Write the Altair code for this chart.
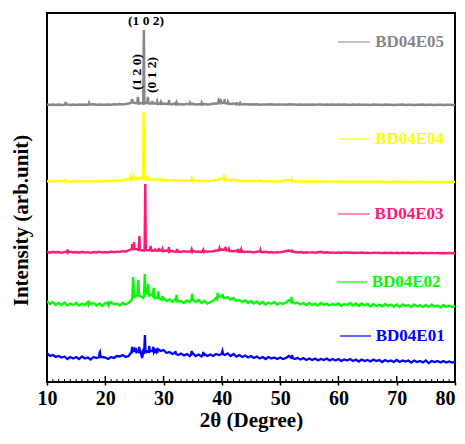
import altair as alt
import pandas as pd

# ---------------- data ----------------
series_names = ["BD04E01", "BD04E02", "BD04E03", "BD04E04", "BD04E05"]
series_colors = ["#0000ff", "#00ff00", "#ff1a75", "#ffff00", "#888888"]
series_offset = [20, 76, 129, 200, 277]

# background grid: 10 .. 80 deg, 0.5 deg step
two_theta_grid = [round(10 + 0.5 * i, 1) for i in range(141)]

bg_E05 = [0.5,0,0.5,0,0.5,0,0.3,0.6,0,0.4,
          0,0.5,0.2,0.6,0.1,0.4,0.8,0.2,0.5,0.3,
          0.2,0.6,0.3,0.8,0.5,1,0.6,1,1.5,3,
          2,2.5,2,1.5,2,1.5,2,1.5,1.2,2,
          1.5,1,1.2,0.8,1.5,1,0.8,0.6,1,0.8,
          1.2,0.6,0.8,0.5,1,0.6,0.8,1.2,1.5,2.5,
          2.5,2,1.5,1,1.5,0.8,1.2,0.6,1,0.5,
          0.8,0.4,0.8,0.3,0.6,0.4,0.5,0.8,0.3,0.5,
          0.4,0.6,0.3,0.8,0.4,0.6,0.3,0.5,0.2,0.5,
          0.3,0.5,0.2,0.4,0.6,0.2,0.5,0.3,0.4,0.2,
          0.4,0.2,0.5,0.3,0.1,0.4,0.2,0.5,0.3,0.2,
          0.3,0.1,0.4,0.2,0.3,0.1,0.4,0.2,0.3,0.1,
          0.3,0.2,0.4,0.1,0.3,0.2,0.1,0.3,0.2,0.4,
          0.1,0.3,0.2,0.1,0.3,0.2,0.1,0.3,0.2,0.1,
          0.2]
bg_E04 = [0.5,1.2,0.3,1,0.5,1.3,0.4,1,0.2,0.8,
          0.3,1,0.4,1.1,0.2,0.9,0.5,1.2,0.3,1,
          0.6,1.3,0.8,1.5,1,1.8,1.5,2.5,3,4.5,
          4,3.5,4.5,3,3.5,2.5,3,2.2,2.8,2,
          2.5,1.5,2,1.2,1.8,1,1.5,1,1.5,1.2,
          3,1.2,1,1.4,0.8,1.3,1,1.6,2,3,
          3.5,2.5,2,1.5,2,1.2,1.5,1,1.3,0.8,
          1.2,0.6,1,1.4,0.5,1,0.6,0.9,0.4,0.8,
          0.5,1,1.5,2,1,0.7,0.4,0.9,0.3,0.7,
          0.4,0.8,0.2,0.7,0.4,0.8,0.3,0.6,0.2,0.5,
          0.3,0.7,0.1,0.5,0.3,0.6,0.1,0.4,0.2,0.5,
          0.1,0.4,0.2,0.5,0,0.4,0.1,0.3,0,0.4,
          0.1,0.3,0,0.4,0.1,0.2,0,0.3,0.1,0.2,
          0,0.3,0.1,0.2,-0.1,0.2,0,0.1,-0.1,0.1,
          0]
bg_E03 = [1,0.3,1.2,0.5,1,0.2,1.1,0.4,1.3,0.5,
          1,0.3,1.2,0.4,0.9,0.2,1,0.5,1.3,0.4,
          1,0.5,1.5,0.8,1.4,1,1.8,1.5,2.5,4,
          4.5,3.5,3,2.5,3,2.5,2,2.8,2.2,2.5,
          1.8,2.5,1.5,2,1.2,1.6,1,1.8,1.2,1.5,
          2.5,1.2,1.5,1,2,1.2,1.6,1.8,2.5,3,
          3.5,3,2.5,2,1.8,2.2,1.2,1.5,1,1.4,
          1,0.6,1.2,1.8,0.7,1.2,0.5,1,0.4,0.9,
          0.6,1.2,2,2.5,1.5,1,0.5,1,0.3,0.8,
          0.4,0.9,0.2,0.8,1.2,0.3,0.7,0.2,0.6,0.1,
          0.5,0,0.6,0.2,0.5,0,0.4,0.1,0.5,0,
          0.4,-0.1,0.3,0.1,0.4,-0.2,0.3,0,0.2,-0.1,
          0.3,-0.2,0.2,0,0.3,-0.3,0.1,-0.1,0.2,-0.2,
          0.1,-0.3,0.1,-0.1,0,-0.3,0,-0.2,0.1,-0.3,
          -0.2]
bg_E02 = [5,2,4,1,3,1,3.5,0.5,2.5,1,
          3,0.5,2.5,1,4,2,3,0.5,2.5,0,
          3,1,4,1.5,2.5,0.5,3,1.5,3,6,
          9,11,10,8,12,9,11,8,9,7,
          8,5,6.5,4,7,4.5,5,3,5.5,4,
          8,4,6,3,5,2.5,4,5,8,9,
          10,8,9,6.5,8,5,6,4,5.5,3,
          5,2.5,4.5,2,4,1.5,3.5,2,4,1.5,
          3,2,3.5,6,4,2.5,3.5,1.5,3,1,
          3,1,2.5,0.5,3,1,2.5,0.5,2,1,
          2.5,0,2,1,3,0.5,2.5,0,2.5,0.5,
          2,-0.5,2,0,1.5,-0.5,2,0,1.5,-0.5,
          1.5,-1,1.5,0,1,-1,1.5,-0.5,1,-1,
          1,-1,1.5,-0.5,0.5,-1.5,1,-1,0.5,-1,
          0]
bg_E01 = [9,6,7,5,6,4.5,5.5,3,5,3.5,
          5,3,5.5,3.5,4.5,2.5,5,4,9,5,
          4.5,3,5,4,6,5.5,7,5,6,10,
          13,11,12,10,10,9,11,12,13,11,
          12,9,10,8,9.5,7,8.5,6.5,8,6,
          9,6,7.5,5.5,8,6,7.5,6,8,7,
          9,7,8.5,6,8,5.5,7,5,6.5,4.5,
          6,4,5.5,3.5,5,3,5,3.5,4.5,3,
          4.5,3,4,6,4.5,3,4,2.5,4,2,
          3.5,2,3.5,1.5,3,2,3.5,1.5,3,1.5,
          3,1,2.5,1.5,3,1,2.5,0.5,2.5,1,
          2,0.5,2.5,1,2,0,2,0.5,1.5,0,
          2,0,1.5,0.5,1.5,-0.5,1.5,0,1,-0.5,
          1.5,-1,1,0,1,-0.5,1,-0.5,0.5,-0.5,
          0]

# sharp reflections (2-theta, height above baseline)
pk_x_E05 = [13.12,13.2,13.28, 17.15,17.22,17.3, 24.38,24.6,24.78, 25.45,25.6,25.72,
            26.52,26.62,26.7, 27.18,27.3,27.42, 27.92,28.05,28.18, 28.8,28.9,29.05,
            29.4,29.55,29.7, 30.82,30.95,31.08, 32.1,32.2,32.3, 34.42,34.55,34.65,
            36.42,36.55,36.65, 39.3,39.42,39.55, 39.62,39.75,39.9, 40.35,40.48,40.62,
            40.9,41.05,41.2, 42.4,42.55,42.65, 43.05,43.15,43.3]
pk_y_E05 = [0.5,3,0.5, 0.5,1.8,0.5, 2,6,2.5, 2,8,1.5,
            1.5,75,1.5, 2,8,2, 1.5,4,1.5, 1.5,3.5,1.5,
            1.2,3,1.2, 1,5,1, 0.8,2.5,0.8, 1,2,1,
            0.8,2,0.8, 1.5,4,2.5, 2.5,6,2, 2,6,2,
            1.5,3,1.2, 0.8,2.5,0.8, 0.8,2,0.8]
pk_x_E04 = [13.02,13.1,13.18, 24.2,24.3,24.4, 24.7,24.82,24.95, 25.4,25.52,25.62,
            26.45,26.56,26.66, 27.1,27.22,27.35, 27.9,28.02,28.12, 34.7,34.82,34.92,
            39.4,39.52,39.62, 40.3,40.42,40.55, 51.9,52.02,52.12]
pk_y_E04 = [0.5,3,0.5, 3,5,3, 3.5,5.5,3.5, 3.5,5,3,
            3,70,3, 3,5,3, 2.5,4,2.5, 1.5,3.5,1.5,
            2,4,2.5, 3,7,3, 1.5,2.5,1.5]
pk_x_E03 = [13.42,13.52,13.62, 24.52,24.62,24.72, 24.82,24.95,25.08, 25.72,25.84,25.95,
            26.74,26.86,26.96, 27.66,27.78,27.9, 28.4,28.52,28.62, 29.1,29.22,29.32,
            29.7,29.82,29.92, 30.8,30.92,31.05, 32.2,32.32,32.42, 34.7,34.82,34.92,
            36.7,36.82,36.92, 39.45,39.6,39.72, 40.52,40.62,40.72, 41.1,41.2,41.3,
            42.7,42.8,42.9, 43.2,43.32,43.42, 46.52,46.62,46.72, 51.9,52.02,52.12]
pk_y_E03 = [0.8,3.5,0.8, 3,9,4, 4,11,4, 3,17,3,
            2.5,69,2.5, 3,7,3, 2.5,4.5,2.5, 2.5,5,2.5,
            2,4,2, 1.8,6,1.8, 1.5,4,1.5, 1.5,3.5,1.5,
            1.2,3,1.2, 2.5,5,3, 3,6,3, 2.5,4,2,
            1.5,4,1.5, 1.5,3.5,1.2, 1,3,1, 1.5,3.5,1.5]
pk_x_E02 = [17.1,17.22,17.32, 20.4,20.52,20.62, 24.62,24.78,24.94, 25.52,25.66,25.8,
            26.62,26.78,26.92, 27.22,27.38,27.52, 28.15,28.3,28.44, 28.95,29.1,29.22,
            29.7,29.82,29.92, 32.1,32.22,32.35, 34.75,34.9,35.05, 39.15,39.3,39.42,
            40.05,40.15,40.28, 51.85,51.98,52.15]
pk_y_E02 = [2,5,2, 2,5,2, 8,29,12, 10,26,10,
            10,32,12, 14,22,12, 10,18,10, 8,15,8,
            7,10,7, 6,11,6, 6,12,6, 7,13,9,
            9,12,8, 4,9,4]
pk_x_E01 = [18.95,19.08,19.2, 24.52,24.62,24.75, 25.1,25.22,25.35, 25.7,25.82,25.95,
            26.2,26.3,26.4, 26.65,26.8,26.92, 27.4,27.52,27.65, 28.1,28.22,28.35,
            28.7,28.82,28.95, 31.9,32.02,32.15, 34.7,34.82,34.95, 36.7,36.82,36.95,
            39.98,40.1,40.22, 51.9,52.02,52.15]
pk_y_E01 = [5,10,5, 11,15,11, 10,14,10, 10,15,9,
            7,4,6, 8,27,9, 11,16,11, 11,15,10,
            10,13,9, 9,11,8, 7,11,7, 7,10,6,
            8,11,8, 4,7,4]

# legend / annotation contents
legend_level = [46, 100, 168, 243, 340]
hkl_labels = ["(1 0 2)", "(1 2 0)", "(0 1 2)"]
hkl_theta = [27.0, 25.4, 27.95]
hkl_level = [361, 310, 307]
minor_ticks = [t for t in range(11, 80) if t % 10 != 0]
major_ticks = [10, 20, 30, 40, 50, 60, 70, 80]

# ---------------- build tables ----------------
bgs = [bg_E01, bg_E02, bg_E03, bg_E04, bg_E05]
pkx = [pk_x_E01, pk_x_E02, pk_x_E03, pk_x_E04, pk_x_E05]
pky = [pk_y_E01, pk_y_E02, pk_y_E03, pk_y_E04, pk_y_E05]
rows = []
for name, off, bg, px, py in zip(series_names, series_offset, bgs, pkx, pky):
    pts = list(zip(two_theta_grid, bg)) + list(zip(px, py))
    pts.sort(key=lambda p: p[0])
    for x, h in pts:
        rows.append({"series": name, "theta": x, "intensity": off + h})
df = pd.DataFrame(rows)

# legend layout (positions kept separately from data)
leg_x0 = [60.3, 59.7, 59.9, 60.0, 59.9]
leg_x1 = [65.6, 64.9, 65.4, 65.4, 65.4]
leg_xt = [66.4, 65.7, 66.2, 66.3, 66.3]
df_leg = pd.DataFrame({"series": series_names, "y": legend_level,
                       "x0": leg_x0, "x1": leg_x1, "xt": leg_xt})
df_hkl = pd.DataFrame({"label": hkl_labels, "theta": hkl_theta, "y": hkl_level})

FONT = "Liberation Serif"
H = 369
W = 408

xscale = alt.Scale(domain=[10, 80], nice=False, zero=False)
yscale = alt.Scale(domain=[0, H], nice=False, zero=False)
cscale = alt.Scale(domain=series_names, range=series_colors)

lines = alt.Chart(df).mark_line(clip=True).encode(
    x=alt.X("theta:Q", scale=xscale,
            axis=alt.Axis(title="2θ (Degree)", values=major_ticks, format="d",
                          labelFont=FONT, labelFontSize=20, labelFontWeight="bold",
                          labelColor="black", titleFont=FONT, titleFontSize=21,
                          titleFontWeight="bold", titleColor="black", titlePadding=1,
                          grid=False, domain=False, ticks=True, tickSize=3,
                          tickWidth=1.5, tickColor="black", labelPadding=3,
                          labelFlush=False,
                          labelAlign={"condition": {"test": "datum.value == 80",
                                                    "value": "right"},
                                      "value": "center"})),
    y=alt.Y("intensity:Q", scale=yscale,
            axis=alt.Axis(title="Intensity (arb.unit)", labels=False, ticks=False,
                          domain=False, grid=False, titleFont=FONT, titleFontSize=21,
                          titleFontWeight="bold", titleColor="black",
                          titleX=-26, titleY=207, titleAngle=270,
                          titleAlign="center", titleBaseline="middle")),
    color=alt.Color("series:N", scale=cscale, legend=None),
    strokeWidth=alt.StrokeWidth("series:N",
                                scale=alt.Scale(domain=series_names,
                                                range=[2.3, 2.5, 1.7, 1.9, 1.1]),
                                legend=None),
    detail="series:N",
)

leg_rules = alt.Chart(df_leg).mark_rule(strokeWidth=1.2).encode(
    x=alt.X("x0:Q", scale=xscale), x2="x1:Q",
    y=alt.Y("y:Q", scale=yscale),
    color=alt.Color("series:N", scale=cscale, legend=None),
)
leg_text = alt.Chart(df_leg).mark_text(align="left", baseline="middle", font=FONT,
                                       fontSize=17, fontWeight="bold").encode(
    x=alt.X("xt:Q", scale=xscale), y=alt.Y("y:Q", scale=yscale),
    text="series:N",
    color=alt.Color("series:N", scale=cscale, legend=None),
)

hkl_h = alt.Chart(df_hkl.iloc[[0]]).mark_text(font=FONT, fontSize=13.5, fontWeight="bold",
                                             color="black", baseline="middle").encode(
    x=alt.X("theta:Q", scale=xscale), y=alt.Y("y:Q", scale=yscale), text="label:N")
hkl_v = alt.Chart(df_hkl.iloc[[1, 2]]).mark_text(font=FONT, fontSize=13.5, fontWeight="bold",
                                                color="black", baseline="middle",
                                                angle=270).encode(
    x=alt.X("theta:Q", scale=xscale), y=alt.Y("y:Q", scale=yscale), text="label:N")

df_minor = pd.DataFrame({"t": minor_ticks})
df_major = pd.DataFrame({"t": major_ticks})
minor = alt.Chart(df_minor).mark_rule(color="black", strokeWidth=1).encode(
    x=alt.X("t:Q", scale=xscale), y=alt.value(H - 3), y2=alt.value(H))
major = alt.Chart(df_major).mark_rule(color="black", strokeWidth=1.5).encode(
    x=alt.X("t:Q", scale=xscale), y=alt.value(H - 6), y2=alt.value(H))

chart = alt.layer(lines, leg_rules, leg_text, hkl_h, hkl_v, minor, major).properties(
    width=W, height=H,
    padding={"left": 39, "top": 5, "right": 2, "bottom": 54},
    autosize="none",
    background="white",
).configure_view(stroke="black", strokeWidth=2)

chart.save("out.html", embed_options={"renderer": "svg", "actions": False})
